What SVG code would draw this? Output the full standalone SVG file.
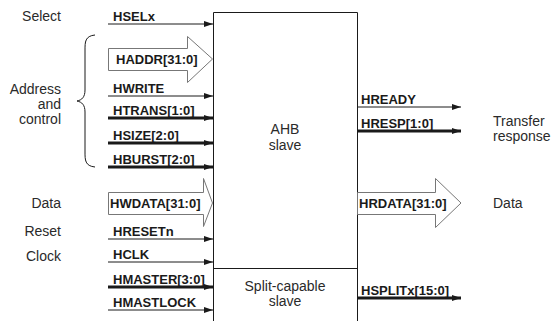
<svg xmlns="http://www.w3.org/2000/svg" width="551" height="321" viewBox="0 0 551 321">
<style>
.sig{font-family:"Liberation Sans",Arial,sans-serif;font-weight:bold;font-size:13px;fill:#1a1a1a}
.lbl{font-family:"Liberation Sans",Arial,sans-serif;font-size:14px;fill:#2a2a2a}
.thin{stroke:#1a1a1a;stroke-width:1;fill:none}
.thick{stroke:#1a1a1a;stroke-width:3;fill:none}
.fat{fill:#fff;stroke:#777;stroke-width:1}
.box{fill:#fff;stroke:#1a1a1a;stroke-width:1}
</style>
<defs>
<marker id="ah" markerUnits="userSpaceOnUse" markerWidth="10" markerHeight="8" refX="9" refY="4" orient="auto">
<path d="M0,1 L9,4 L0,7 Z" fill="#1a1a1a"/>
</marker>
</defs>
<rect width="551" height="321" fill="#fff"/>
<g id="ahb-slave">
<path class="box" d="M213.5,330 V12.5 H357.5 V330"/>
<text class="lbl" x="285" y="134" text-anchor="middle">AHB</text>
<text class="lbl" x="285" y="150" text-anchor="middle">slave</text>
</g>
<g id="split-capable">
<line class="thin" x1="213.5" y1="268.5" x2="357.5" y2="268.5"/>
<text class="lbl" x="285" y="291" text-anchor="middle">Split-capable</text>
<text class="lbl" x="285" y="306" text-anchor="middle">slave</text>
</g>
<g id="left-labels">
<text class="lbl" x="61" y="21" text-anchor="end">Select</text>
<text class="lbl" x="61" y="94" text-anchor="end">Address</text>
<text class="lbl" x="61" y="109" text-anchor="end">and</text>
<text class="lbl" x="61" y="124" text-anchor="end">control</text>
<text class="lbl" x="61" y="208" text-anchor="end">Data</text>
<text class="lbl" x="61" y="236" text-anchor="end">Reset</text>
<text class="lbl" x="61" y="261" text-anchor="end">Clock</text>
<path class="thin" d="M95,35 C85,36 85,42 85,50 L85,90 C85,97 82,100 77,101 C82,102 85,105 85,112 L85,152 C85,160 85,166 95,167"/>
</g>
<g id="right-labels">
<text class="lbl" x="493" y="126">Transfer</text>
<text class="lbl" x="493" y="141">response</text>
<text class="lbl" x="493" y="208">Data</text>
</g>
<g id="connectors">
<line class="thin" x1="108" y1="24" x2="213" y2="24" marker-end="url(#ah)"/>
<path class="fat" d="M108.5,48.5 H187.5 V36.5 L212.5,59 L187.5,82.5 V70.5 H108.5 Z"/>
<line class="thin" x1="108" y1="96" x2="213" y2="96" marker-end="url(#ah)"/>
<line class="thick" x1="108" y1="118" x2="213" y2="118" marker-end="url(#ah)"/>
<line class="thick" x1="108" y1="143" x2="213" y2="143" marker-end="url(#ah)"/>
<line class="thick" x1="108" y1="167" x2="213" y2="167" marker-end="url(#ah)"/>
<path class="fat" d="M108.5,192.5 H203.5 V178.5 L212.5,203 L203.5,226.5 V214.5 H108.5 Z"/>
<line class="thin" x1="108" y1="239" x2="213" y2="239" marker-end="url(#ah)"/>
<line class="thin" x1="108" y1="262" x2="213" y2="262" marker-end="url(#ah)"/>
<line class="thick" x1="108" y1="287" x2="213" y2="287" marker-end="url(#ah)"/>
<line class="thin" x1="108" y1="310" x2="213" y2="310" marker-end="url(#ah)"/>
<line class="thin" x1="358" y1="107" x2="461" y2="107" marker-end="url(#ah)"/>
<line class="thick" x1="358" y1="131" x2="461" y2="131" marker-end="url(#ah)"/>
<path class="fat" d="M357.5,192.5 H435.5 V178.5 L461,203 L435.5,227.5 V214.5 H357.5 Z"/>
<line class="thick" x1="358" y1="298" x2="461" y2="298" marker-end="url(#ah)"/>
</g>
<g id="signal-labels">
<text class="sig" x="113" y="21">HSELx</text>
<text class="sig" x="116" y="64">HADDR[31:0]</text>
<text class="sig" x="113" y="93">HWRITE</text>
<text class="sig" x="113" y="115">HTRANS[1:0]</text>
<text class="sig" x="113" y="140">HSIZE[2:0]</text>
<text class="sig" x="113" y="164">HBURST[2:0]</text>
<text class="sig" x="110" y="208">HWDATA[31:0]</text>
<text class="sig" x="113" y="236">HRESETn</text>
<text class="sig" x="113" y="259">HCLK</text>
<text class="sig" x="113" y="284">HMASTER[3:0]</text>
<text class="sig" x="113" y="307">HMASTLOCK</text>
<text class="sig" x="361" y="104">HREADY</text>
<text class="sig" x="361" y="128">HRESP[1:0]</text>
<text class="sig" x="359" y="208">HRDATA[31:0]</text>
<text class="sig" x="361" y="295">HSPLITx[15:0]</text>
</g>
</svg>
